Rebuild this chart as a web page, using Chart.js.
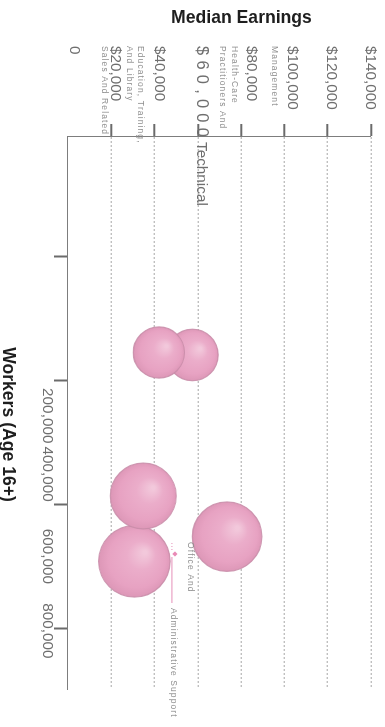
<!DOCTYPE html>
<html>
<head>
<meta charset="utf-8">
<script src="https://cdn.jsdelivr.net/npm/chart.js@4.4.1/dist/chart.umd.min.js"></script>
<style>
  html, body { margin: 0; padding: 0; background: #ffffff; width: 385px; height: 727px; overflow: hidden; }
  /* the chart is laid out landscape and turned a quarter turn clockwise */
  #frame { position: absolute; left: 0; top: 0; width: 727px; height: 385px;
           transform-origin: 0 0; transform: translate(385px, 0) rotate(90deg); }
  canvas { display: block; }
</style>
</head>
<body>
<div id="frame"><canvas id="chart" width="727" height="385" style="width:727px;height:385px"></canvas></div>
<script>
// Occupation groups: number of workers aged 16+ and their median earnings
const occupations = [
  'Health-Care Practitioners And Technical',
  'Education, Training, And Library',
  'Office And Administrative Support',
  'Sales And Related',
  'Management'
];
const workers = [358600, 354600, 691800, 586300, 652000];
const medianEarnings = [57500, 42000, 30700, 34800, 73500];

// Callout marker for the office and administrative support group
const calloutWorkers = [680000];
const calloutEarnings = [49400];

// Axis ticks
const earningsTicks = [0, 20000, 40000, 60000, 80000, 100000, 120000, 140000];
const earningsTickLabels = ['0', '$20,000', '$40,000', '$60,000', '$80,000', '$100,000', '$120,000', '$140,000'];
const workerTicks = [200000, 400000, 600000, 800000];
const workerTickLabels = ['200,000', '400,000', '600,000', '800,000'];

// ---- layout and styling ----
const FONT = '"Liberation Sans", Arial, Helvetica, sans-serif';
const PINK = '#E8A5C4';
const bubbleRadiusPerSqrtWorker = 0.043;
const yAxisWidth = 136, xAxisHeight = 68;
const labelLeft = 46;                                   // left edge of the earnings labels
const yLabelNudge = [-2, 0, 0, 0.5, -5.5, -4, 1, 5];      // baseline tweaks per earnings label
const xLabelShift = [159, 93.5, 52, 2.5];                 // centre offsets of the worker labels
const xLabelBaseline = 342;
const tickFont = '15.3px ' + FONT;
const wideTick = 60000, wideTickFont = '16.5px ' + FONT, wideTickSpacing = 5.2, wideTickTrailer = 'Technical';
// occupation names printed beside the earnings axis (anchored on earnings values)
const sideLabels = [
  { lines: ['Management'], at: 94100 },
  { lines: ['Health-Care', 'Practitioners And'], at: 75600 },
  { lines: ['Education, Training,', 'And Library'], at: 32500 },
  { lines: ['Sales And Related'], at: 15600 }
];
const sideLineGap = 11.6;

function spaced(ctx, text, x, y, spacing) {
  let cx = x;
  for (const ch of text) {
    ctx.fillText(ch, cx, y);
    cx += ctx.measureText(ch).width + spacing;
  }
  return cx;
}

function glossyFill(context) {
  const raw = context.raw;
  const chart = context.chart;
  if (!raw || !chart.chartArea) return PINK;
  const px = chart.scales.x.getPixelForValue(raw.x);
  const py = chart.scales.y.getPixelForValue(raw.y);
  const r = raw.r;
  const g = chart.ctx.createRadialGradient(px - r * 0.25, py - r * 0.3, r * 0.05, px, py, r * 1.05);
  g.addColorStop(0, '#F2C8DB');
  g.addColorStop(0.35, '#EBADCA');
  g.addColorStop(0.75, '#E7A2C2');
  g.addColorStop(1, '#DB95B5');
  return g;
}

const textPlugin = {
  id: 'axisText',
  afterDraw(chart) {
    const { ctx, scales: { x, y } } = chart;
    ctx.save();
    ctx.textAlign = 'left';
    ctx.textBaseline = 'alphabetic';

    // earnings tick labels, left aligned in the axis band
    ctx.fillStyle = '#6f6f6f';
    earningsTicks.forEach((v, i) => {
      const py = y.getPixelForValue(v) + yLabelNudge[i];
      if (v === wideTick) {
        ctx.font = wideTickFont;
        const end = spaced(ctx, earningsTickLabels[i], labelLeft, py, wideTickSpacing);
        ctx.font = tickFont;
        ctx.fillText(wideTickTrailer, end, py);
      } else {
        ctx.font = tickFont;
        ctx.fillText(earningsTickLabels[i], labelLeft, py);
      }
    });

    // occupation names beside the earnings axis
    ctx.font = '8.5px ' + FONT;
    ctx.fillStyle = '#8e8e8e';
    sideLabels.forEach(lbl => {
      const base = y.getPixelForValue(lbl.at);
      lbl.lines.forEach((line, k) => spaced(ctx, line, labelLeft, base + k * sideLineGap, 1.1));
    });

    // worker tick labels
    ctx.font = tickFont;
    ctx.fillStyle = '#6f6f6f';
    ctx.textAlign = 'center';
    workerTicks.forEach((v, i) => {
      ctx.fillText(workerTickLabels[i], x.getPixelForValue(v) + xLabelShift[i], xLabelBaseline);
    });

    // axis titles
    ctx.fillStyle = '#1e1e1e';
    ctx.font = 'bold 17.6px ' + FONT;
    ctx.fillText('Workers (Age 16+)', 424.5, 381.5);
    ctx.save();
    ctx.translate(23.3, 143.5);
    ctx.rotate(-Math.PI / 2);
    ctx.fillText('Median Earnings', 0, 0);
    ctx.restore();

    // callout for office and administrative support
    const mark = chart.getDatasetMeta(1).data[0];
    if (mark) {
      const mx = mark.x, my = mark.y;
      ctx.strokeStyle = '#E58FB8';
      ctx.lineWidth = 1;
      ctx.setLineDash([1, 2]);
      ctx.beginPath(); ctx.moveTo(mx - 11, my + 3); ctx.lineTo(mx - 2, my + 3); ctx.stroke();
      ctx.setLineDash([]);
      ctx.beginPath(); ctx.moveTo(mx + 3, my + 3); ctx.lineTo(mx + 49, my + 3); ctx.stroke();
      ctx.textAlign = 'left';
      ctx.font = '8.5px ' + FONT;
      ctx.fillStyle = '#8e8e8e';
      spaced(ctx, 'Office And', mx - 12, my - 13.3, 1.1);
      spaced(ctx, 'Administrative Support', mx + 54, my + 4.3, 1.1);
    }
    ctx.restore();
  }
};

const bubbles = occupations.map((name, i) => ({
  x: workers[i],
  y: medianEarnings[i],
  r: bubbleRadiusPerSqrtWorker * Math.sqrt(workers[i])
}));
const callout = calloutWorkers.map((w, i) => ({ x: w, y: calloutEarnings[i], r: 2.6 }));

new Chart(document.getElementById('chart'), {
  type: 'bubble',
  data: {
    datasets: [
      {
        label: 'Occupations',
        data: bubbles,
        backgroundColor: glossyFill,
        borderColor: 'rgba(200,140,168,0.85)',
        borderWidth: 1.2
      },
      {
        label: 'Callout',
        data: callout,
        pointStyle: 'rectRot',
        backgroundColor: '#E98AB6',
        borderWidth: 0
      }
    ]
  },
  options: {
    responsive: false,
    devicePixelRatio: 1,
    animation: false,
    events: [],
    layout: { autoPadding: false, padding: { top: 14, right: 38, left: 0, bottom: 0 } },
    plugins: { legend: { display: false }, tooltip: { enabled: false } },
    scales: {
      x: {
        type: 'linear',
        position: 'bottom',
        min: 5000,
        max: 898000,
        afterBuildTicks: s => { s.ticks = workerTicks.map(v => ({ value: v })); },
        afterFit: s => { s.height = xAxisHeight; },
        ticks: { display: false },
        title: { display: false },
        grid: { drawOnChartArea: false, drawTicks: true, tickLength: 14, tickWidth: 2,
                tickColor: '#6b6b6b', tickBorderDash: [] },
        border: { display: true, color: '#7d7d7d', width: 1 }
      },
      y: {
        type: 'linear',
        position: 'left',
        min: 0,
        max: 140000,
        afterBuildTicks: s => { s.ticks = earningsTicks.filter(v => v > 0).map(v => ({ value: v })); },
        afterFit: s => { s.width = yAxisWidth; },
        ticks: { display: false },
        title: { display: false },
        grid: { drawOnChartArea: true, color: 'rgba(165,165,165,0.7)', lineWidth: 1.4,
                drawTicks: true, tickLength: 12, tickWidth: 2, tickColor: '#6b6b6b', tickBorderDash: [] },
        border: { display: true, color: '#7d7d7d', width: 1, dash: [2, 2] }
      }
    }
  },
  plugins: [textPlugin]
});
</script>
</body>
</html>
